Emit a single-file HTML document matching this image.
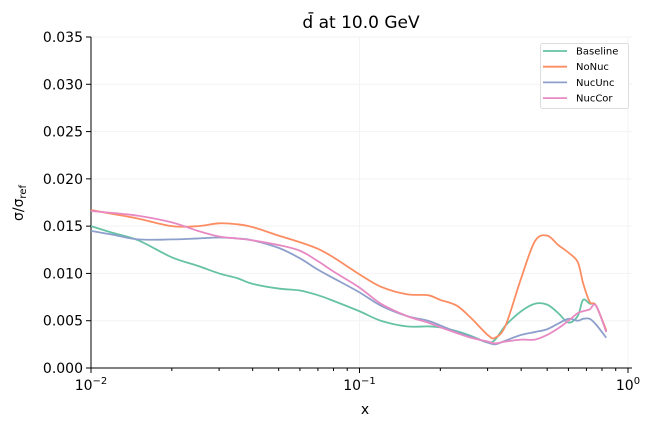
<!DOCTYPE html>
<html><head><meta charset="utf-8"><style>
body{margin:0;background:#fff}
svg{font-family:"DejaVu Sans","Liberation Sans",sans-serif}
</style></head><body>
<svg id="c" width="654" height="427">
<text x="361" y="28" font-size="17" text-anchor="middle">d̄ at 10.0 GeV</text>
<g id="grid"></g><g id="axes"></g><g id="lines"></g>
<text x="365" y="414" font-size="14" text-anchor="middle">x</text>
<text transform="translate(23,203) rotate(-90)" font-size="14" text-anchor="middle">σ/σ<tspan font-size="10" dy="3">ref</tspan></text>
<g>
<rect x="540.5" y="43.5" width="88" height="65" rx="2" fill="#fff" stroke="#ddd"/>
</g><g id="leg"></g>
</svg>
<script>
const xs=[0.01,0.012,0.015,0.02,0.025,0.03,0.035,0.04,0.05,0.06,0.07,0.08,0.1,0.12,0.15,0.18,0.2,0.23,0.26,0.3,0.32,0.35,0.4,0.45,0.5,0.55,0.6,0.65,0.68,0.72,0.76,0.83];
const baseline=[0.0150,0.0143,0.0135,0.0117,0.0108,0.0100,0.0095,0.0089,0.0084,0.0082,0.0077,0.0071,0.0060,0.0050,0.0044,0.0044,0.0043,0.0039,0.0034,0.0027,0.0030,0.0045,0.0060,0.0068,0.0067,0.0058,0.0048,0.0055,0.0072,0.0068,0.0066,0.0039];
const noNuc=[0.0167,0.0163,0.0158,0.0150,0.0150,0.0153,0.0152,0.0149,0.0140,0.0133,0.0126,0.0117,0.0099,0.0086,0.0078,0.0077,0.0072,0.0066,0.0053,0.0035,0.0032,0.0045,0.0095,0.0134,0.0140,0.0130,0.0122,0.0112,0.0090,0.0070,0.0066,0.0040];
const nucUnc=[0.0145,0.0141,0.0136,0.0136,0.0137,0.0138,0.0137,0.0135,0.0127,0.0116,0.0104,0.0095,0.0080,0.0066,0.0055,0.0050,0.0045,0.0038,0.0033,0.0027,0.0025,0.0029,0.0035,0.0038,0.0041,0.0047,0.0052,0.0050,0.0052,0.0052,0.0046,0.0032];
const nucCor=[0.0166,0.0164,0.0161,0.0154,0.0145,0.0139,0.0137,0.0135,0.0130,0.0124,0.0113,0.0102,0.0085,0.0068,0.0055,0.0048,0.0043,0.0037,0.0032,0.0028,0.0026,0.0028,0.0030,0.0030,0.0035,0.0042,0.0050,0.0058,0.0060,0.0062,0.0066,0.0038];
const names=["Baseline","NoNuc","NucUnc","NucCor"];
const colors=["#66c2a5","#fc8d62","#8da0cb","#e78ac3"];
const yTicks=[0,0.005,0.01,0.015,0.02,0.025,0.03,0.035];
const yLabels=["0.000","0.005","0.010","0.015","0.020","0.025","0.030","0.035"];
const xMajor=[0.01,0.1,1];
const NS="http://www.w3.org/2000/svg";
const X=v=>91+268.5*(Math.log10(v)+2);
const Y=v=>368-v*9457;
function mk(t,a,p){const e=document.createElementNS(NS,t);for(const k in a)e.setAttribute(k,a[k]);p.appendChild(e);return e;}
const g=document.getElementById('grid'),ax=document.getElementById('axes'),L=document.getElementById('lines'),lg=document.getElementById('leg');
yTicks.forEach((t,i)=>{
 const y=Y(t);
 if(i>0){const gl=mk('line',{x1:91,x2:632,y1:y,y2:y,stroke:'#f3f3f3','stroke-width':1},g);
 
 }
 mk('line',{x1:86,x2:91,y1:y,y2:y,stroke:'#000'},ax);
 const tx=mk('text',{x:83,y:y+5,'font-size':14,'text-anchor':'end'},ax);tx.textContent=yLabels[i];
 
 
});
xMajor.forEach((v,i)=>{
 const x=X(v);
 const gl=mk('line',{x1:x,x2:x,y1:37,y2:368,stroke:'#f3f3f3'},g);
 
 
 mk('line',{x1:x,x2:x,y1:368,y2:373,stroke:'#000'},ax);
 const tx=mk('text',{x:x,y:390,'font-size':14,'text-anchor':'middle'},ax);
 tx.innerHTML='10<tspan dy="-6" font-size="10">'+(i===0?'−2':i===1?'−1':'0')+'</tspan>';
 
 
 if(i<2)for(let k=2;k<10;k++){const m=X(v*k);mk('line',{x1:m,x2:m,y1:368,y2:371,stroke:'#000'},ax);}
});
mk('line',{x1:91,x2:91,y1:37,y2:368.5,stroke:'#000','stroke-width':1},ax);
mk('line',{x1:90.5,x2:632,y1:368,y2:368,stroke:'#000','stroke-width':1},ax);
function path(pts){let d='M'+pts[0][0]+','+pts[0][1];
 for(let i=0;i<pts.length-1;i++){const p0=pts[Math.max(0,i-1)],p1=pts[i],p2=pts[i+1],p3=pts[Math.min(pts.length-1,i+2)];
 d+=' C'+(p1[0]+(p2[0]-p0[0])/6)+','+(p1[1]+(p2[1]-p0[1])/6)+' '+(p2[0]-(p3[0]-p1[0])/6)+','+(p2[1]-(p3[1]-p1[1])/6)+' '+p2[0]+','+p2[1];}
 return d;}
[baseline,noNuc,nucUnc,nucCor].forEach((s,i)=>{
 const p=mk('path',{d:path(xs.map((x,j)=>[X(x),Y(s[j])])),fill:'none',stroke:colors[i],'stroke-width':1.8},L);
 
 
 const y=51+i*15.7;
 const ln=mk('line',{x1:543,x2:567,y1:y,y2:y,stroke:colors[i],'stroke-width':1.8},lg);
 
 
 const t=mk('text',{x:576,y:y+3.5,'font-size':10},lg);t.textContent=names[i];
 
 
});
</script>
</body></html>
